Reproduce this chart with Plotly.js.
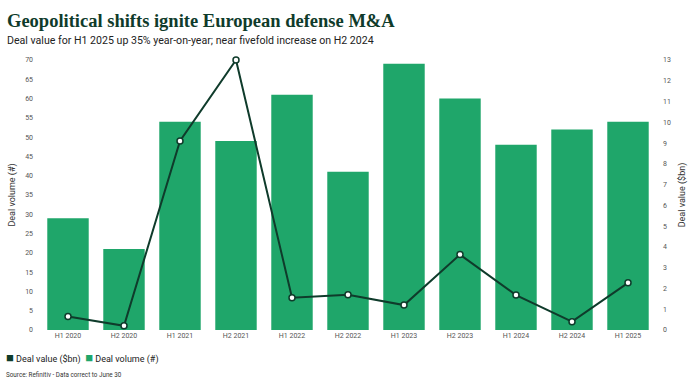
<!DOCTYPE html>
<html><head><meta charset="utf-8">
<script src="https://cdn.plot.ly/plotly-3.0.1.min.js"></script>
<style>html,body{margin:0;padding:0;background:#fff}#c{width:700px;height:385px}</style>
</head><body><div id="c"></div>
<script>
const categories = ["H1 2020","H2 2020","H1 2021","H2 2021","H1 2022","H2 2022","H1 2023","H2 2023","H1 2024","H2 2024","H1 2025"];
const dealVolume = [29, 21, 54, 49, 61, 41, 69, 60, 48, 52, 54];
const dealValue = [0.65, 0.2, 9.1, 13, 1.55, 1.7, 1.2, 3.63, 1.68, 0.4, 2.27];
const leftTicks = [0,5,10,15,20,25,30,35,40,45,50,55,60,65,70];
const rightTicks = [0,1,2,3,4,5,6,7,8,9,10,11,12,13];

const green = "#1fa66a", dark = "#0f3b2b";
const tickFont = {family: "Roboto, sans-serif", size: 7, color: "#555"};

const traces = [
  {type: "bar", x: categories, y: dealVolume, name: "Deal volume (#)", marker: {color: green}, yaxis: "y", showlegend: false, hoverinfo: "skip"},
  {type: "scatter", mode: "lines+markers", x: categories, y: dealValue, name: "Deal value ($bn)", yaxis: "y2", cliponaxis: false,
   line: {color: dark, width: 2}, marker: {color: "#fff", size: 6, line: {color: dark, width: 1.5}}, showlegend: false}
];

const L = 39.5, W = 617;
const px = p => (p - L) / W;

const layout = {
  width: 700, height: 385,
  margin: {l: L, r: 700 - L - W, t: 60, b: 55},
  paper_bgcolor: "#fff", plot_bgcolor: "#fff",
  bargap: 0.26,
  showlegend: false,
  xaxis: {automargin: false, range: [-0.5, categories.length - 0.5], tickfont: tickFont, showgrid: false, zeroline: false, showline: false, ticks: "", ticklen: 0},
  yaxis: {automargin: false, range: [0, 70], tickvals: leftTicks, tickfont: tickFont, showgrid: false, zeroline: false, ticks: "", ticklabelstandoff: 6,
          title: {text: "Deal volume (#)", font: {family: "Roboto, sans-serif", size: 9, color: "#333"}, standoff: 7}},
  yaxis2: {automargin: false, range: [0, 13], tickvals: rightTicks, overlaying: "y", side: "right", tickfont: tickFont, showgrid: false, zeroline: false, ticks: "", ticklabelstandoff: 6,
          title: {text: "Deal value ($bn)", font: {family: "Roboto, sans-serif", size: 9, color: "#333"}, standoff: 8}},
  annotations: [
    {xref: "paper", yref: "paper", x: px(4), y: 1.0, yshift: 39, xanchor: "left", yanchor: "middle", showarrow: false,
     text: "<b>Geopolitical shifts ignite European defense M&A</b>", font: {family: "Liberation Serif, serif", size: 18.5, color: dark}},
    {xref: "paper", yref: "paper", x: px(4), y: 1.0, yshift: 20, xanchor: "left", yanchor: "middle", showarrow: false,
     text: "Deal value for H1 2025 up 35% year-on-year; near fivefold increase on H2 2024", font: {family: "Roboto, sans-serif", size: 10.6, color: "#222"}},
    {xref: "paper", yref: "paper", x: px(3), y: 0, yshift: -27, xanchor: "left", yanchor: "middle", showarrow: false,
     text: "<span style='color:" + dark + ";font-size:13px'>■</span> Deal value ($bn)  <span style='color:" + green + ";font-size:13px'>■</span> Deal volume (#)",
     font: {family: "Roboto, sans-serif", size: 9, color: "#222"}},
    {xref: "paper", yref: "paper", x: px(3), y: 0, yshift: -45, xanchor: "left", yanchor: "middle", showarrow: false,
     text: "Source: Refinitiv - Data correct to June 30", font: {family: "Roboto, sans-serif", size: 6.3, color: "#333"}}
  ]
};
Plotly.newPlot("c", traces, layout, {displayModeBar: false, staticPlot: true});
</script></body></html>
